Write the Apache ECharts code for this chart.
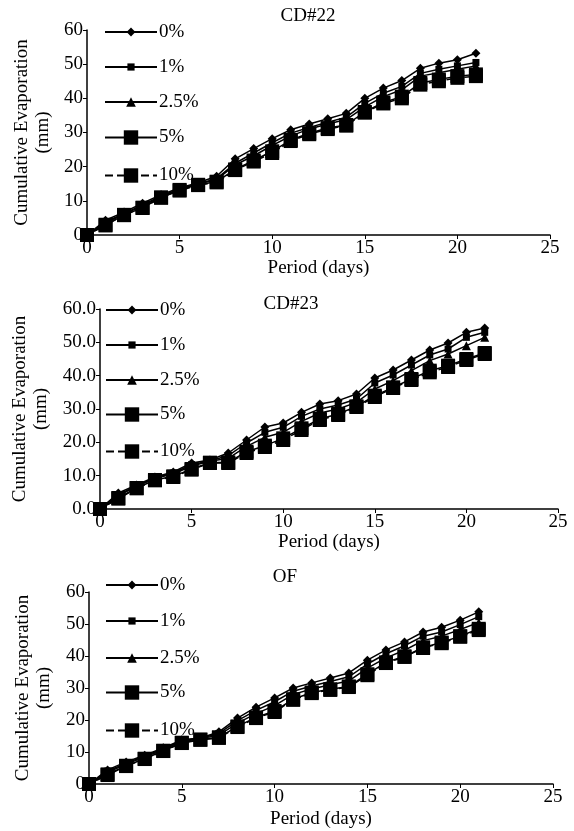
<!DOCTYPE html>
<html>
<head>
<meta charset="utf-8">
<script src="https://cdn.jsdelivr.net/npm/echarts@6/dist/echarts.min.js"></script>
<style>
  html, body { margin: 0; padding: 0; background: #fff; }
  #chart { width: 574px; height: 831px; }
</style>
</head>
<body>
<div id="chart"></div>
<script>
const days = [0,1,2,3,4,5,6,7,8,9,10,11,12,13,14,15,16,17,18,19,20,21];
const names = ['0%', '1%', '2.5%', '5%', '10%'];
const panelTitles = ['CD#22', 'CD#23', 'OF'];

// CD#22
const cd22_0 = [0,4.3,6.7,9.3,11.8,13.8,15.3,17.2,22.3,25.3,28.2,30.8,32.5,34,35.6,40,43,45.2,48.8,50.3,51.3,53.2];
const cd22_1 = [0,3.8,6.3,8.8,11.4,13.5,15.0,16.5,21.0,24.0,27.0,29.8,31.5,33,34.5,38.5,41.5,43.5,47.3,48.5,49.5,50.5];
const cd22_25 = [0,3.5,6.1,8.5,11.2,13.4,14.9,16.2,20.5,23.2,26.2,29.0,31.0,32.5,33.8,37.5,40.5,42.5,46.5,47.5,48.5,49.5];
const cd22_5 = [0,3.0,5.8,8.0,10.9,13.2,14.7,15.6,19.2,21.8,24.5,27.8,29.8,31.3,32.2,36.0,38.8,40.5,44.5,45.5,46.5,47.0];
const cd22_10 = [0,2.8,5.9,7.9,11.0,13.0,14.6,15.4,19.0,21.5,24.0,27.5,29.5,31.0,32.0,35.8,38.5,40.0,44.0,45.0,46.0,46.5];

// CD#23
const cd23_0 = [0,4.8,7.2,9.6,11.1,13.8,14.7,16.8,20.7,24.6,25.8,29,31.5,32.5,34.5,39.3,41.7,44.7,47.7,49.8,53,54.3];
const cd23_1 = [0,4.3,6.9,9.4,10.8,13.3,14.5,16.0,19.8,23.0,24.5,27.8,30.0,31.2,33.0,37.8,40.2,43.2,46.2,48.0,51.5,53];
const cd23_25 = [0,4.0,6.7,9.2,10.5,12.9,14.3,15.2,18.8,21.5,23.0,26.3,28.8,30.0,32.0,36.0,38.5,41.5,44.5,46.5,49.0,51.5];
const cd23_5 = [0,3.3,6.3,8.7,9.8,12.0,13.9,14.0,17.2,19.0,21.2,24.2,27.0,28.5,30.8,34.0,36.5,39.0,41.5,43.0,45.0,46.8];
const cd23_10 = [0,3.1,6.2,8.6,9.6,11.8,13.8,13.8,16.8,18.6,20.7,23.7,26.7,28.2,30.6,33.6,36.3,38.7,41.0,42.6,44.7,46.5];

// OF
const of_0 = [0,4.4,6.9,9.0,11.3,13.8,14.4,16.3,20.6,24.0,26.9,30.0,31.6,33.1,34.7,38.7,41.9,44.4,47.5,49.0,51.2,53.8];
const of_1 = [0,4.0,6.5,8.7,11.0,13.5,14.3,15.8,19.8,23.0,25.7,29.0,30.6,32.0,33.5,37.5,40.7,43.2,46.2,47.5,49.8,52.3];
const of_25 = [0,3.6,6.2,8.4,10.7,13.3,14.1,15.3,19.0,22.0,24.5,28.0,29.7,31.0,32.2,36.2,39.4,41.8,44.8,46.2,48.3,50.5];
const of_5 = [0,3.0,5.7,7.9,10.4,12.9,13.9,14.6,18.0,20.8,22.8,26.5,28.6,29.6,30.5,34.3,38.0,39.9,42.7,44.2,46.2,48.5];
const of_10 = [0,2.8,5.6,7.8,10.3,12.8,13.8,14.4,17.8,20.6,22.5,26.3,28.4,29.4,30.3,34.0,37.8,39.7,42.5,44.0,46.0,48.1];

const panelData = [
    [cd22_0, cd22_1, cd22_25, cd22_5, cd22_10],
    [cd23_0, cd23_1, cd23_25, cd23_5, cd23_10],
    [of_0, of_1, of_25, of_5, of_10]
];

const font = 'Liberation Serif';
const symbols = ['diamond', 'rect', 'triangle', 'rect', 'rect'];
const symbolSizes = [9, 7, 9, 14, 14];
const legendIconHeights = [11, 9, 12, 18, 18];
const lineTypes = ['solid', 'solid', 'solid', 'solid', 'dashed'];

// layout of each panel, pixels
const grids = [
    {left: 87, top: 30, right: 24, bottom: 596, outerBoundsMode: 'none'},
    {left: 100, top: 309, right: 16, bottom: 322, outerBoundsMode: 'none'},
    {left: 89, top: 592, right: 21, bottom: 47, outerBoundsMode: 'none'}
];
const yNameGaps = [33, 45, 34];
const xNameGaps = [19, 21, 26];
const legendLeft = [104, 105, 105];
const legendRows = [
    [31, 66, 101, 137, 175],
    [309, 344, 379, 414, 451],
    [584, 620, 657, 692, 730]
];
const titlePos = [{x: 303, y: 2}, {x: 286, y: 290}, {x: 280, y: 563}];

let chart = echarts.init(document.getElementById('chart'));

let xAxes = [], yAxes = [], series = [], legends = [], titles = [];
for (let p = 0; p < 3; p++) {
    xAxes.push({
        type: 'value', gridIndex: p, min: 0, max: 25, interval: 5,
        name: 'Period (days)', nameLocation: 'middle', nameGap: xNameGaps[p],
        nameTextStyle: {fontFamily: font, fontSize: 19, color: '#000'},
        axisLine: {lineStyle: {color: '#000', width: 1.5}},
        axisTick: {show: true, length: 4, lineStyle: {color: '#000'}},
        axisLabel: {fontFamily: font, fontSize: 19, color: '#000', margin: 4},
        splitLine: {show: false}
    });
    yAxes.push({
        type: 'value', gridIndex: p, min: 0, max: 60, interval: 10,
        name: 'Cumulative Evaporation\n(mm)', nameLocation: 'middle', nameGap: yNameGaps[p],
        nameTextStyle: {fontFamily: font, fontSize: 19, color: '#000', lineHeight: 21},
        axisLine: {show: true, lineStyle: {color: '#000', width: 1.5}},
        axisTick: {show: true, length: 4, lineStyle: {color: '#000'}},
        axisLabel: {
            fontFamily: font, fontSize: 19, color: '#000', margin: 4,
            formatter: p === 1 ? v => v.toFixed(1) : v => String(v)
        },
        splitLine: {show: false}
    });
    for (let s = 0; s < 5; s++) {
        series.push({
            name: names[s], type: 'line',
            xAxisIndex: p, yAxisIndex: p,
            data: days.map((d, i) => [d, panelData[p][s][i]]),
            symbol: symbols[s], symbolSize: symbolSizes[s],
            itemStyle: {color: '#000'},
            lineStyle: {color: '#000', width: 1.5, type: lineTypes[s]}
        });
        // one legend per entry so each icon keeps its own marker size
        legends.push({
            orient: 'vertical', left: legendLeft[p],
            top: legendRows[p][s] - Math.max(legendIconHeights[s], 17) / 2,
            padding: 0,
            itemWidth: 52, itemHeight: legendIconHeights[s],
            z: 20,
            textStyle: {fontFamily: font, fontSize: 19, color: '#000', padding: [0, 0, 0, -3]},
            data: [names[s]]
        });
    }
    titles.push({
        text: panelTitles[p], left: titlePos[p].x, top: titlePos[p].y,
        textAlign: 'center',
        textStyle: {fontFamily: font, fontSize: 19, fontWeight: 'normal', color: '#000'}
    });
}

chart.setOption({
    animation: false,
    backgroundColor: '#fff',
    title: titles,
    legend: legends,
    grid: grids,
    xAxis: xAxes,
    yAxis: yAxes,
    series: series
});
</script>
</body>
</html>
